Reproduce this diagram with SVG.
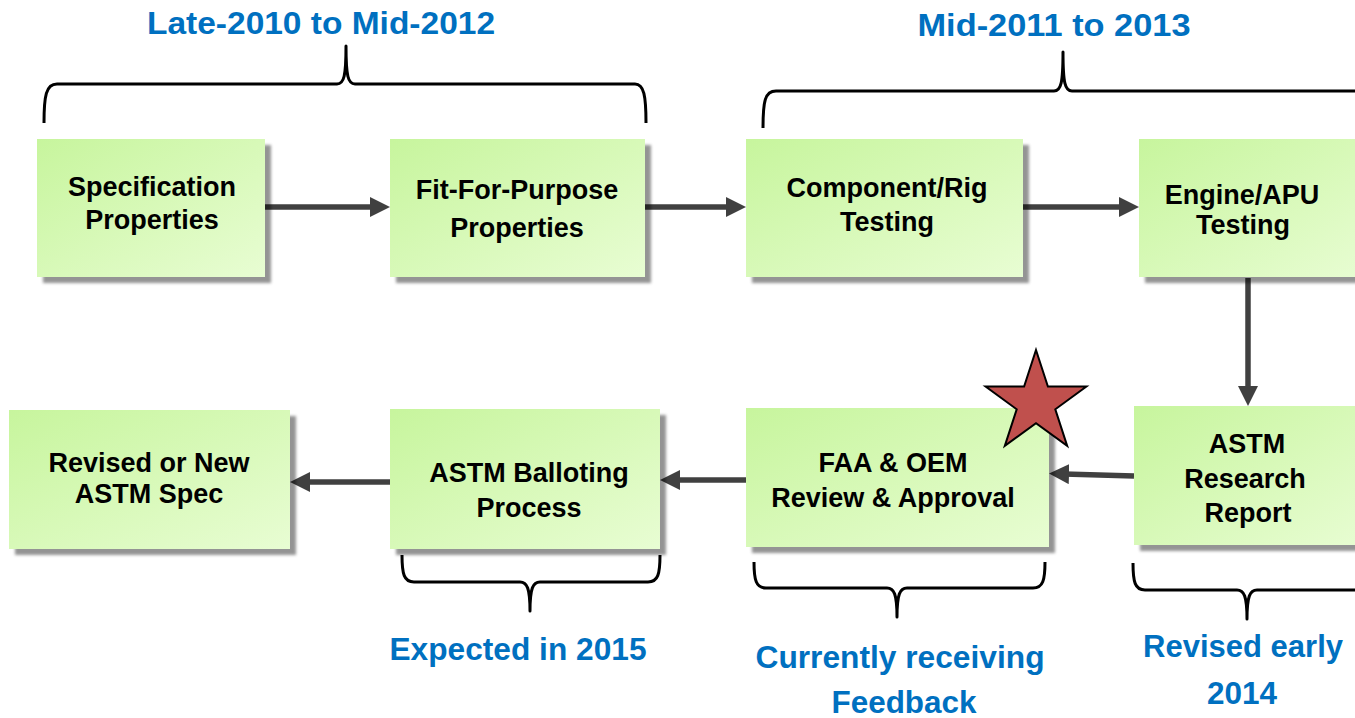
<svg xmlns="http://www.w3.org/2000/svg" width="1355" height="718" viewBox="0 0 1355 718">
  <defs>
    <linearGradient id="boxFill" x1="0" y1="0" x2="1" y2="1">
      <stop offset="0" stop-color="#c7f59d"/>
      <stop offset="1" stop-color="#e8fdd3"/>
    </linearGradient>
    <filter id="shadow" x="-10%" y="-10%" width="125%" height="130%">
      <feDropShadow dx="6" dy="6" stdDeviation="1.6" flood-color="#000" flood-opacity="0.42"/>
    </filter>
    <marker id="arrow" markerUnits="userSpaceOnUse" markerWidth="20" markerHeight="20" refX="5" refY="10" orient="auto">
      <path d="M0,0 L20,10 L0,20 z" fill="#404040"/>
    </marker>
    <style>
      .box { fill: url(#boxFill); filter: url(#shadow); }
      .lbl { font-family: "Liberation Sans", Arial, sans-serif; font-weight: bold; font-size: 27px; fill: #000; text-anchor: middle; }
      .note { font-family: "Liberation Sans", Arial, sans-serif; font-weight: bold; font-size: 32px; fill: #0070c0; text-anchor: middle; }
      .conn { stroke: #404040; stroke-width: 5.5; fill: none; marker-end: url(#arrow); }
      .brace { stroke: #000; stroke-width: 3; fill: none; stroke-linejoin: round; }
    </style>
  </defs>

  <rect width="1355" height="718" fill="#fff"/>

  <!-- period labels -->
  <g id="notes">
    <text class="note" x="321" y="34" textLength="348" lengthAdjust="spacingAndGlyphs">Late-2010 to Mid-2012</text>
    <text class="note" x="1054" y="36" textLength="273" lengthAdjust="spacingAndGlyphs">Mid-2011 to 2013</text>
    <text class="note" x="518" y="660" textLength="257" lengthAdjust="spacingAndGlyphs">Expected in 2015</text>
    <text class="note" x="900" y="668" textLength="289" lengthAdjust="spacingAndGlyphs">Currently receiving</text>
    <text class="note" x="904" y="713" textLength="145" lengthAdjust="spacingAndGlyphs">Feedback</text>
    <text class="note" x="1243" y="657" textLength="200" lengthAdjust="spacingAndGlyphs">Revised early</text>
    <text class="note" x="1242" y="704" textLength="70" lengthAdjust="spacingAndGlyphs">2014</text>
  </g>

  <!-- braces -->
  <g id="braces">
    <path class="brace" d="M44,123 C44,96 46,84 57,84 L337,84 C344,84 346,76 346,46 C346,76 348,84 355,84 L635,84 C644,84 646,96 646,123"/>
    <path class="brace" d="M763,128 C763,101 765,91 776,91 L1054,91 C1061,91 1063,83 1063,52 C1063,83 1065,91 1072,91 L1360,91"/>
    <path class="brace" d="M402,555 C402,574 404,582 414,582 L520,582 C527,582 530,588 530,611 C530,588 533,582 540,582 L648,582 C658,582 660,574 660,555"/>
    <path class="brace" d="M754,562 C754,580 756,588 766,588 L887,588 C894,588 897,594 897,617 C897,594 900,588 907,588 L1033,588 C1043,588 1045,580 1045,562"/>
    <path class="brace" d="M1133,563 C1133,582 1135,590 1145,590 L1237,590 C1244,590 1247,596 1247,619 C1247,596 1250,590 1257,590 L1360,590"/>
  </g>

  <!-- connectors -->
  <g id="connectors">
    <line class="conn" x1="265" y1="207" x2="375" y2="207"/>
    <line class="conn" x1="645" y1="207" x2="731" y2="207"/>
    <line class="conn" x1="1023" y1="207" x2="1124" y2="207"/>
    <line class="conn" x1="1248" y1="278" x2="1248" y2="391"/>
    <line class="conn" x1="1134" y1="476" x2="1064" y2="474"/>
    <line class="conn" x1="746" y1="480" x2="675" y2="480"/>
    <line class="conn" x1="390" y1="482" x2="305" y2="482"/>
  </g>

  <!-- process steps -->
  <g id="spec-properties">
    <rect class="box" x="37" y="139" width="228" height="138"/>
    <text class="lbl" x="152" y="196">Specification</text>
    <text class="lbl" x="152" y="229">Properties</text>
  </g>
  <g id="ffp-properties">
    <rect class="box" x="390" y="139" width="255" height="138"/>
    <text class="lbl" x="517" y="199">Fit-For-Purpose</text>
    <text class="lbl" x="517" y="237">Properties</text>
  </g>
  <g id="rig-testing">
    <rect class="box" x="746" y="139" width="277" height="138"/>
    <text class="lbl" x="887" y="197">Component/Rig</text>
    <text class="lbl" x="887" y="231">Testing</text>
  </g>
  <g id="engine-testing">
    <rect class="box" x="1139" y="139" width="230" height="138"/>
    <text class="lbl" x="1242" y="204">Engine/APU</text>
    <text class="lbl" x="1243" y="234">Testing</text>
  </g>
  <g id="research-report">
    <rect class="box" x="1134" y="406" width="235" height="139"/>
    <text class="lbl" x="1247" y="453">ASTM</text>
    <text class="lbl" x="1245" y="488">Research</text>
    <text class="lbl" x="1248" y="522">Report</text>
  </g>
  <g id="faa-review">
    <rect class="box" x="746" y="408" width="303" height="139"/>
    <text class="lbl" x="893" y="472">FAA &amp; OEM</text>
    <text class="lbl" x="893" y="507">Review &amp; Approval</text>
  </g>
  <g id="balloting">
    <rect class="box" x="390" y="409" width="270" height="140"/>
    <text class="lbl" x="529" y="482">ASTM Balloting</text>
    <text class="lbl" x="529" y="517">Process</text>
  </g>
  <g id="new-spec">
    <rect class="box" x="9" y="410" width="281" height="139"/>
    <text class="lbl" x="149" y="472">Revised or New</text>
    <text class="lbl" x="149" y="503">ASTM Spec</text>
  </g>

  <!-- current-status marker -->
  <g id="star">
    <polygon points="1036,350 1047.9,386.6 1086.4,386.6 1055.3,409.3 1067.2,445.9 1036,423.3 1004.8,445.9 1016.7,409.3 985.6,386.6 1024.1,386.6" fill="#c0504d" stroke="#000" stroke-width="2" stroke-linejoin="miter"/>
  </g>
</svg>
